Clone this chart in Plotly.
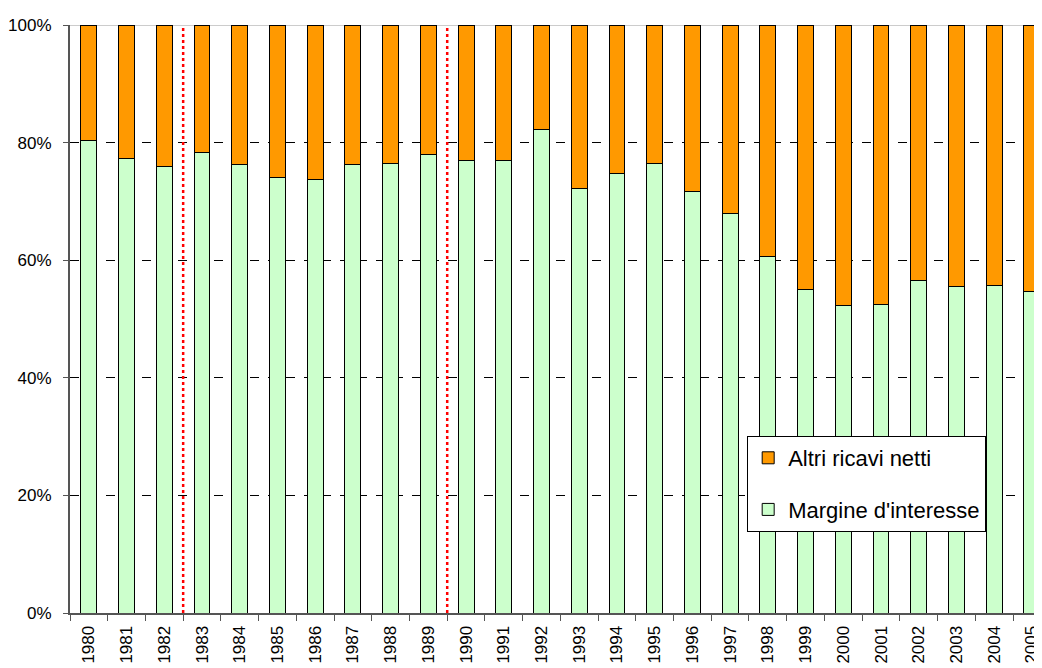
import plotly.graph_objects as go

years = [str(y) for y in range(1980, 2006)]
margine = [80.4, 77.3, 76.0, 78.4, 76.3, 74.1, 73.8, 76.3, 76.5, 78.0,
           76.9, 76.9, 82.3, 72.2, 74.8, 76.5, 71.6, 68.0, 60.6, 55.1,
           52.3, 52.4, 56.6, 55.5, 55.7, 54.7]
altri = [round(100 - m, 1) for m in margine]
break_positions = [2.5, 9.5]

fig = go.Figure()
fig.add_trace(go.Bar(x=years, y=margine, name="Margine d'interesse",
                     legendgroup="m", legendrank=2,
                     marker=dict(color="#CCFFCC", line=dict(color="black", width=1)),
                     width=0.42))
fig.add_trace(go.Bar(x=years, y=altri, name="Altri ricavi netti",
                     legendgroup="a", legendrank=1,
                     marker=dict(color="#FF9900", line=dict(color="black", width=1)),
                     width=0.42))

for xb in break_positions:
    fig.add_shape(type="line", xref="x", yref="y", x0=xb, x1=xb, y0=0, y1=100,
                  line=dict(color="red", width=2.5, dash="dot"), layer="above")
fig.add_shape(type="line", xref="paper", yref="y", x0=0, x1=1, y0=100, y1=100,
              line=dict(color="#999999", width=1), layer="below")

fig.update_layout(
    barmode="stack",
    width=1042, height=668,
    margin=dict(l=62, r=0, t=17, b=63),
    paper_bgcolor="white", plot_bgcolor="white",
    font=dict(family="Liberation Sans, Arial", size=17, color="black"),
    legend=dict(x=0.691, y=0.301, xanchor="left", yanchor="top",
                traceorder="grouped", bgcolor="white",
                bordercolor="black", borderwidth=1,
                font=dict(size=22), tracegroupgap=20,
                itemwidth=30),
    showlegend=True,
)
fig.update_xaxes(type="category", range=[-0.5, 25.48], tickangle=-90,
                 tickson="boundaries", ticks="outside", ticklen=6,
                 tickcolor="#555555", showline=True, linecolor="#555555",
                 linewidth=2, showgrid=False, ticklabelstandoff=4,
                 tickfont=dict(size=17))
fig.update_yaxes(range=[0, 100], dtick=20, ticksuffix="%", ticks="outside",
                 ticklen=5, tickcolor="#555555", showline=True,
                 linecolor="#555555", linewidth=2, showgrid=True,
                 gridcolor="black", gridwidth=1, griddash="dash",
                 zeroline=False, ticklabelstandoff=8, tickfont=dict(size=17))

fig.write_html("out.html")
